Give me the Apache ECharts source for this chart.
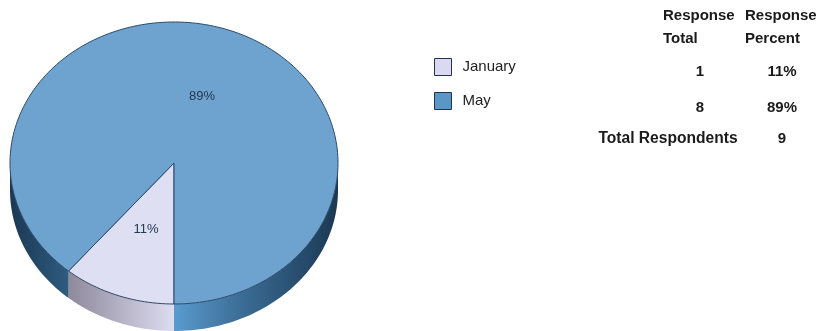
<!DOCTYPE html>
<html>
<head>
<meta charset="utf-8">
<style>html,body{margin:0;padding:0;background:#fff}#c{width:822px;height:331px}</style>
<script src="https://cdn.jsdelivr.net/npm/echarts@6/dist/echarts.min.js"></script>
</head>
<body>
<div id="c"></div>
<script>
const categories = ['January', 'May'];
const responseTotals = [1, 8];
const responsePercents = ['11%', '89%'];
const totalRespondents = 9;

const FONT = '"Liberation Sans", Arial, sans-serif';
const PIE = { cx: 174, cy: 163, rx: 164, ry: 141, depth: 27, startDeg: 180 };
const TOP_FILL = ['#dfdff3', '#6fa3cf'];
const SWATCH = ['#d9d9f1', '#5a96c6'];
const EDGE = '#2b4a6c';
const WALL = [
  [{ offset: 0, color: '#8e899b' }, { offset: 1, color: '#dedcf1' }],
  [{ offset: 0, color: '#5a9bce' }, { offset: 0.4, color: '#3c6e97' }, { offset: 0.8, color: '#254a6a' }, { offset: 1, color: '#1b3852' }]
];
const WALL_LEFT_MAY = [{ offset: 0, color: '#1b3853' }, { offset: 1, color: '#2f5b80' }];

const total = responseTotals.reduce((a, b) => a + b, 0);
function pt(deg, dy) {
  const r = deg * Math.PI / 180;
  return [PIE.cx + PIE.rx * Math.sin(r), PIE.cy - PIE.ry * Math.cos(r) + (dy || 0)];
}
function arc(a0, a1, dy) {
  const n = Math.max(2, Math.ceil(Math.abs(a1 - a0) / 1.5));
  const out = [];
  for (let i = 0; i <= n; i++) out.push(pt(a0 + (a1 - a0) * i / n, dy));
  return out;
}
function sliceRange(idx) {
  let a = PIE.startDeg;
  for (let i = 0; i < idx; i++) a += responseTotals[i] / total * 360;
  return [a, a + responseTotals[idx] / total * 360];
}
function wallPiece(a0, a1, stops) {
  const pts = arc(a0, a1, 0).concat(arc(a1, a0, PIE.depth));
  return {
    type: 'polygon', z2: 1, silent: true,
    shape: { points: pts },
    style: { fill: { type: 'linear', x: 0, y: 0, x2: 1, y2: 0, colorStops: stops }, stroke: null }
  };
}
function makeRender(idx) {
  return function (params, api) {
    const [a0, a1] = sliceRange(idx);
    const children = [];
    // visible side wall: the parts of the slice on the lower half of the ellipse
    [[90, 270], [450, 630]].forEach(function (win) {
      const s = Math.max(a0, win[0]), e = Math.min(a1, win[1]);
      if (e > s) {
        const stops = (idx === 1 && s < 360) ? WALL_LEFT_MAY : WALL[idx];
        children.push(wallPiece(s, e, stops));
      }
    });
    children.push({
      type: 'polygon', z2: 5,
      shape: { points: [[PIE.cx, PIE.cy]].concat(arc(a0, a1, 0)) },
      style: { fill: TOP_FILL[idx], stroke: EDGE, lineWidth: 1, lineJoin: 'round' }
    });
    const mid = pt((a0 + a1) / 2, 0);
    children.push({
      type: 'text', z2: 10,
      style: {
        x: (mid[0] + PIE.cx) / 2, y: (mid[1] + PIE.cy) / 2,
        text: responsePercents[idx], fill: '#24384e',
        font: '13px ' + FONT, align: 'center', verticalAlign: 'middle'
      }
    });
    return { type: 'group', children: children };
  };
}

const headerCells = [
  ['Response', 663, 16, 'left'], ['Total', 663, 39, 'left'],
  ['Response', 745, 16, 'left'], ['Percent', 745, 39, 'left']
];
const graphics = [];
function cell(text, x, y, align, size) {
  graphics.push({
    type: 'text', x: x, y: y, silent: true,
    style: { text: String(text), fill: '#1a1a1a', font: 'bold ' + (size || 15) + 'px ' + FONT, align: align, verticalAlign: 'middle' }
  });
}
headerCells.forEach(c => cell(c[0], c[1], c[2], c[3]));
responseTotals.forEach((v, i) => {
  const y = 72 + i * 36;
  cell(v, 700, y, 'center');
  cell(responsePercents[i], 782, y, 'center');
});
cell('Total Respondents', 668, 139, 'center', 15.6);
cell(totalRespondents, 782, 139, 'center');

const chart = echarts.init(document.getElementById('c'), null, { renderer: 'canvas' });
chart.setOption({
  animation: false,
  backgroundColor: '#ffffff',
  legend: {
    orient: 'vertical', left: 434, top: 58, padding: 0,
    itemWidth: 17, itemHeight: 17, itemGap: 16, icon: 'rect',
    selectedMode: false,
    textStyle: { fontFamily: FONT, fontSize: 15, color: '#222', padding: [0, 0, 2, 6] },
    itemStyle: { borderColor: '#26324f', borderWidth: 1 },
    data: categories
  },
  graphic: graphics,
  series: categories.map((name, i) => ({
    type: 'custom', name: name, coordinateSystem: 'none',
    itemStyle: { color: SWATCH[i] },
    renderItem: makeRender(i),
    data: [[responseTotals[i]]]
  }))
});
</script>
</body>
</html>
